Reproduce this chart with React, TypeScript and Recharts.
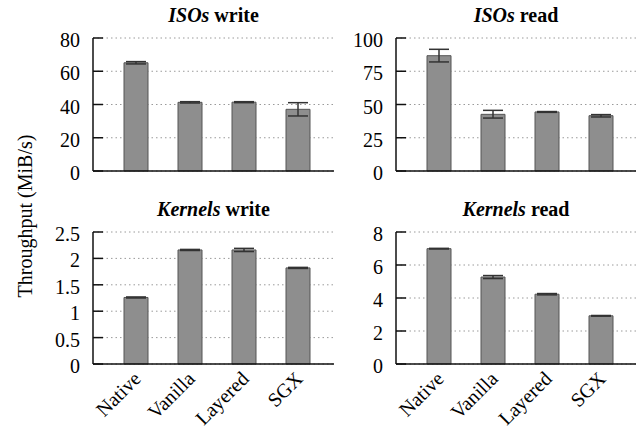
import React from "react";
import { BarChart, Bar, XAxis, YAxis, CartesianGrid, ErrorBar } from "recharts";

const FONT = '"Liberation Serif", "Times New Roman", serif';

const CATEGORIES = ["Native", "Vanilla", "Layered", "SGX"];

// ISOs write (MiB/s)
const ISO_WRITE = [65.1, 41.3, 41.4, 37.1];
const ISO_WRITE_LOW = [64.4, 40.9, 41.1, 33.1];
const ISO_WRITE_HIGH = [65.8, 41.7, 41.7, 41.1];
const ISO_WRITE_TICKS = [0, 20, 40, 60, 80];

// ISOs read
const ISO_READ = [86.7, 42.6, 44.4, 41.6];
const ISO_READ_LOW = [82.0, 39.8, 44.1, 40.6];
const ISO_READ_HIGH = [91.5, 45.6, 44.7, 42.4];
const ISO_READ_TICKS = [0, 25, 50, 75, 100];

// Kernels write
const KER_WRITE = [1.26, 2.16, 2.16, 1.82];
const KER_WRITE_LOW = [1.25, 2.15, 2.13, 1.81];
const KER_WRITE_HIGH = [1.27, 2.17, 2.19, 1.83];
const KER_WRITE_TICKS = [0, 0.5, 1, 1.5, 2, 2.5];

// Kernels read
const KER_READ = [6.99, 5.27, 4.23, 2.92];
const KER_READ_LOW = [6.97, 5.18, 4.19, 2.9];
const KER_READ_HIGH = [7.01, 5.36, 4.27, 2.94];
const KER_READ_TICKS = [0, 2, 4, 6, 8];

const BAND = 54;

function YTick(props: any) {
  const { x, y, payload } = props;
  return (
    <g>
      <line x1={x} x2={x + 10} y1={y} y2={y} stroke="#111" strokeWidth={1.5} />
      <text x={x - 13} y={y + 9} textAnchor="end" fontSize={20} fontFamily={FONT} fill="#000">
        {payload.value}
      </text>
    </g>
  );
}

function XTick(props: any) {
  const { x, y, payload } = props;
  const ax = x + 6;
  const ay = y + 16;
  return (
    <text
      x={ax}
      y={ay}
      transform={`rotate(-45, ${ax}, ${ay})`}
      textAnchor="end"
      fontSize={20}
      fontFamily={FONT}
      fill="#000"
    >
      {payload.value}
    </text>
  );
}

type PanelProps = {
  title: string;
  op: string;
  values: number[];
  low: number[];
  high: number[];
  ticks: number[];
  px: number;
  py: number;
  pw: number;
  ph: number;
  labels?: boolean;
};

function Panel({ title, op, values, low, high, ticks, px, py, pw, ph, labels }: PanelProps) {
  const data = CATEGORIES.map((name, i) => ({
    name,
    value: values[i],
    err: [values[i] - low[i], high[i] - values[i]],
  }));
  const bottom = labels ? 75 : 16;
  const padLeft = 16;
  const padRight = pw - padLeft - BAND * CATEGORIES.length;
  const frame = { stroke: "#111", strokeWidth: 1.5 };

  return (
    <>
      <div
        style={{
          position: "absolute",
          left: px,
          width: pw,
          top: py - 33,
          textAlign: "center",
          fontFamily: FONT,
          fontSize: 20,
          lineHeight: "20px",
          fontWeight: "bold",
          whiteSpace: "nowrap",
        }}
      >
        <i>{title}</i> {op}
      </div>
      <div style={{ position: "absolute", left: px - 60, top: py - 40 }}>
        <BarChart
          width={pw + 66}
          height={ph + 40 + bottom}
          data={data}
          margin={{ top: 40, left: 10, right: 6, bottom: 0 }}
        >
          <CartesianGrid vertical={false} stroke="#9a9a9a" strokeDasharray="1.5 3" />
          <XAxis
            dataKey="name"
            height={bottom}
            padding={{ left: padLeft, right: padRight }}
            axisLine={frame}
            tickLine={false}
            tickSize={0}
            tickMargin={0}
            interval={0}
            tick={labels ? <XTick /> : false}
          />
          <XAxis
            xAxisId="top"
            dataKey="name"
            orientation="top"
            height={0}
            axisLine={frame}
            tickLine={false}
            tick={false}
          />
          <YAxis
            type="number"
            domain={[0, ticks[ticks.length - 1]]}
            ticks={ticks}
            interval={0}
            width={50}
            axisLine={frame}
            tickLine={false}
            tickSize={0}
            tickMargin={0}
            tick={<YTick />}
          />
          <YAxis
            yAxisId="right"
            orientation="right"
            width={0}
            axisLine={frame}
            tickLine={false}
            tick={false}
          />
          <Bar
            dataKey="value"
            fill="#8e8e8e"
            stroke="#555"
            strokeWidth={1}
            barSize={24}
            isAnimationActive={false}
          >
            <ErrorBar dataKey="err" width={10} stroke="#333" strokeWidth={1.5} direction="y" />
          </Bar>
        </BarChart>
      </div>
    </>
  );
}

export default function App() {
  return (
    <div
      style={{
        position: "absolute",
        left: 0,
        top: 0,
        width: 642,
        height: 439,
        background: "#fff",
        overflow: "hidden",
      }}
    >
      <Panel title="ISOs" op="write" values={ISO_WRITE} low={ISO_WRITE_LOW} high={ISO_WRITE_HIGH}
        ticks={ISO_WRITE_TICKS} px={93} py={38} pw={241} ph={133} />
      <Panel title="ISOs" op="read" values={ISO_READ} low={ISO_READ_LOW} high={ISO_READ_HIGH}
        ticks={ISO_READ_TICKS} px={396} py={38} pw={240} ph={133} />
      <Panel title="Kernels" op="write" values={KER_WRITE} low={KER_WRITE_LOW} high={KER_WRITE_HIGH}
        ticks={KER_WRITE_TICKS} px={93} py={232} pw={241} ph={132} labels />
      <Panel title="Kernels" op="read" values={KER_READ} low={KER_READ_LOW} high={KER_READ_HIGH}
        ticks={KER_READ_TICKS} px={396} py={232} pw={240} ph={132} labels />
      <div
        style={{
          position: "absolute",
          left: 25,
          top: 216,
          transform: "translate(-50%, -50%) rotate(-90deg)",
          fontFamily: FONT,
          fontSize: 20,
          lineHeight: "20px",
          whiteSpace: "nowrap",
        }}
      >
        Throughput (MiB/s)
      </div>
    </div>
  );
}
